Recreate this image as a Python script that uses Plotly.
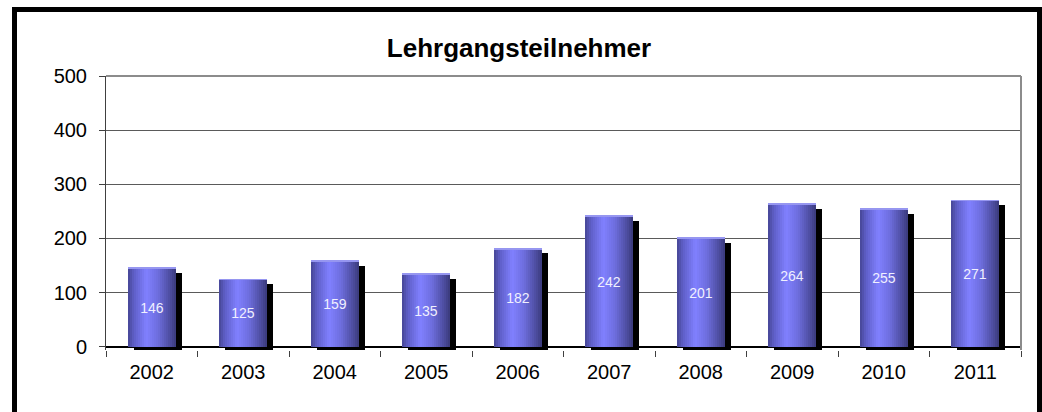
import plotly.graph_objects as go

# Participants per year
years = ["2002", "2003", "2004", "2005", "2006", "2007", "2008", "2009", "2010", "2011"]
participants = [146, 125, 159, 135, 182, 242, 201, 264, 255, 271]
y_ticks = [0, 100, 200, 300, 400, 500]

W, H = 1042, 412
M_L, M_R, M_T, M_B = 106, 21, 76, 62
Y_MIN, Y_MAX = -6, 500
BAR_W = 0.525          # bar width as fraction of a category
N_SLICES = 24          # vertical strips used for the cylinder shading
SHADOW_DX = 0.066      # shadow shift to the right (category units)
SHADOW_DY = 9          # shadow shift downward (value units)

# cylinder shading: position across the bar -> rgb
stops = [(0.0, (70, 70, 148)), (0.12, (94, 94, 198)), (0.38, (128, 128, 255)),
         (0.62, (110, 110, 222)), (0.88, (76, 76, 158)), (1.0, (58, 58, 122))]


def shade(t):
    for (t0, c0), (t1, c1) in zip(stops, stops[1:]):
        if t0 <= t <= t1:
            f = (t - t0) / (t1 - t0)
            return "rgb(%d,%d,%d)" % tuple(round(a + (b - a) * f) for a, b in zip(c0, c1))
    return "rgb(%d,%d,%d)" % stops[-1][1]


fig = go.Figure()

# drop shadow behind each bar
fig.add_trace(go.Bar(
    x=years, y=[v - SHADOW_DY - Y_MIN for v in participants], base=Y_MIN,
    width=BAR_W, offset=-BAR_W / 2 + SHADOW_DX,
    marker=dict(color="black", line=dict(width=0)), hoverinfo="skip", showlegend=False,
))

# shaded cylinder bars built from narrow strips
sw = BAR_W / N_SLICES
for i in range(N_SLICES):
    fig.add_trace(go.Bar(
        x=years, y=participants, width=sw * 1.08, offset=-BAR_W / 2 + i * sw,
        marker=dict(color=shade((i + 0.5) / N_SLICES), line=dict(width=0)),
        hoverinfo="skip", showlegend=False,
    ))

# light rim along the top of each bar
fig.add_trace(go.Bar(
    x=years, y=[1.6] * len(participants), base=[v - 1.6 for v in participants],
    width=BAR_W, offset=-BAR_W / 2,
    marker=dict(color="rgb(150,150,240)", line=dict(width=0)),
    hoverinfo="skip", showlegend=False,
))

# value labels centred in each bar
fig.add_trace(go.Bar(
    x=years, y=participants, width=BAR_W, offset=-BAR_W / 2,
    marker=dict(color="rgba(0,0,0,0)", line=dict(width=0)),
    text=[str(v) for v in participants], textposition="inside",
    insidetextanchor="middle", textangle=0,
    textfont=dict(family="Liberation Sans, Arial", size=14, color="rgb(240,240,255)"),
    hoverinfo="skip", showlegend=False,
))

plot_h = H - M_T - M_B


def px_x(p):
    return (p - M_L) / (W - M_L - M_R)


def px_y(p):
    return (H - M_B - p) / plot_h


shapes = [
    # grey frame on top and right of the plot area
    dict(type="line", xref="paper", yref="paper", x0=0, x1=1, y0=1, y1=1,
         line=dict(color="#8c8c8c", width=2)),
    dict(type="line", xref="paper", yref="paper", x0=1, x1=1, y0=0, y1=1,
         line=dict(color="#8c8c8c", width=2)),
    # outer black border (open at the bottom)
    dict(type="path", xref="paper", yref="paper",
         path="M %f %f L %f %f L %f %f L %f %f" % (
             px_x(14.5), px_y(440), px_x(14.5), px_y(9.5),
             px_x(1039.5), px_y(9.5), px_x(1039.5), px_y(440)),
         line=dict(color="black", width=5)),
]

fig.update_layout(
    width=W, height=H,
    margin=dict(l=M_L, r=M_R, t=M_T, b=M_B),
    paper_bgcolor="white", plot_bgcolor="white",
    barmode="overlay", bargap=0,
    font=dict(family="Liberation Sans, Arial", color="black"),
    title=dict(text="<b>Lehrgangsteilnehmer</b>", x=519 / W, xref="container",
               xanchor="center", y=1 - 48 / H, yref="container", yanchor="middle",
               font=dict(size=26, color="black")),
    shapes=shapes,
    xaxis=dict(
        type="category", tickson="boundaries", ticks="outside", ticklen=6,
        tickcolor="#404040", showline=False, showgrid=False, zeroline=False,
        tickfont=dict(size=20), range=[-0.5, len(years) - 0.5],
        ticklabelstandoff=8,
    ),
    yaxis=dict(
        range=[Y_MIN, Y_MAX], tickvals=y_ticks, ticks="outside", ticklen=6,
        tickcolor="#404040", showline=True, linecolor="#404040", linewidth=1,
        showgrid=True, gridcolor="#5a5a5a", gridwidth=1,
        zeroline=True, zerolinecolor="black", zerolinewidth=1.5,
        tickfont=dict(size=20), ticklabelstandoff=8,
    ),
)

fig.write_html("out.html")
